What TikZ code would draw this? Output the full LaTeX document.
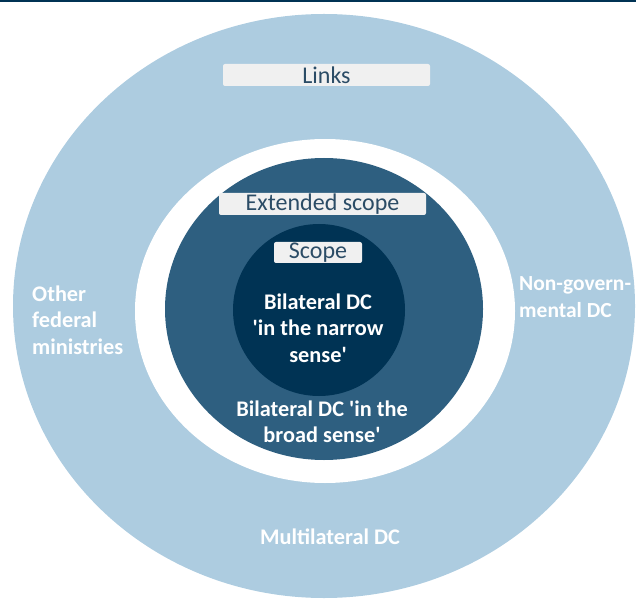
\documentclass[tikz,border=0pt]{standalone}
\usepackage{fontspec}
\setmainfont{Carlito}
\definecolor{outerblue}{HTML}{ADCCE0}
\definecolor{midblue}{HTML}{2E5F80}
\definecolor{navy}{HTML}{003354}
\definecolor{boxgray}{HTML}{F0F0F0}
\definecolor{boxtext}{HTML}{2B4C66}
\newcommand\sq{\textquotesingle}
\tikzset{
  lbl/.style={fill=boxgray, rounded corners=2pt, inner sep=0pt, text=boxtext,
    font=\fontsize{24}{26}\selectfont},
  wtxt/.style={text=white, inner sep=0pt, font=\bfseries\fontsize{22.3}{26.5}\selectfont}
}
\begin{document}
\begin{tikzpicture}[x=1pt,y=-1pt]
\useasboundingbox (0,0) rectangle (636,601);
\clip (0,0) rectangle (636,601);
\fill[outerblue] (324,306) ellipse [x radius=311pt, y radius=292pt];
\fill[white] (325,311) ellipse [x radius=190pt, y radius=172pt];
\fill[midblue] (324,309) ellipse [x radius=159pt, y radius=151pt];
\fill[navy] (319,310) circle (86pt);
\fill[navy] (0,0) rectangle (636,2);
\node[lbl, minimum width=207pt, minimum height=22pt] (links) at (326.5,75) {Links};
\node[lbl, minimum width=207pt, minimum height=22pt] (ext) at (322.5,204) {Extended scope};
\node[lbl, minimum width=88pt, minimum height=21pt] (scope) at (318,252.5) {Scope};
\node[wtxt, align=center] (narrow) at (318,328) {Bilateral DC\\\sq in the narrow\\sense\sq};
\node[wtxt, align=center] (broad) at (322,422) {Bilateral DC \sq in the\\broad sense\sq};
\node[wtxt, align=left, anchor=west] (other) at (32,320) {Other\\federal\\ministries};
\node[wtxt, align=left, anchor=west, font=\bfseries\fontsize{21.5}{26.5}\selectfont] (ngo) at (519,297) {Non-govern-\\mental DC};
\node[wtxt] (multi) at (330,537) {Multilateral DC};
\end{tikzpicture}
\end{document}
